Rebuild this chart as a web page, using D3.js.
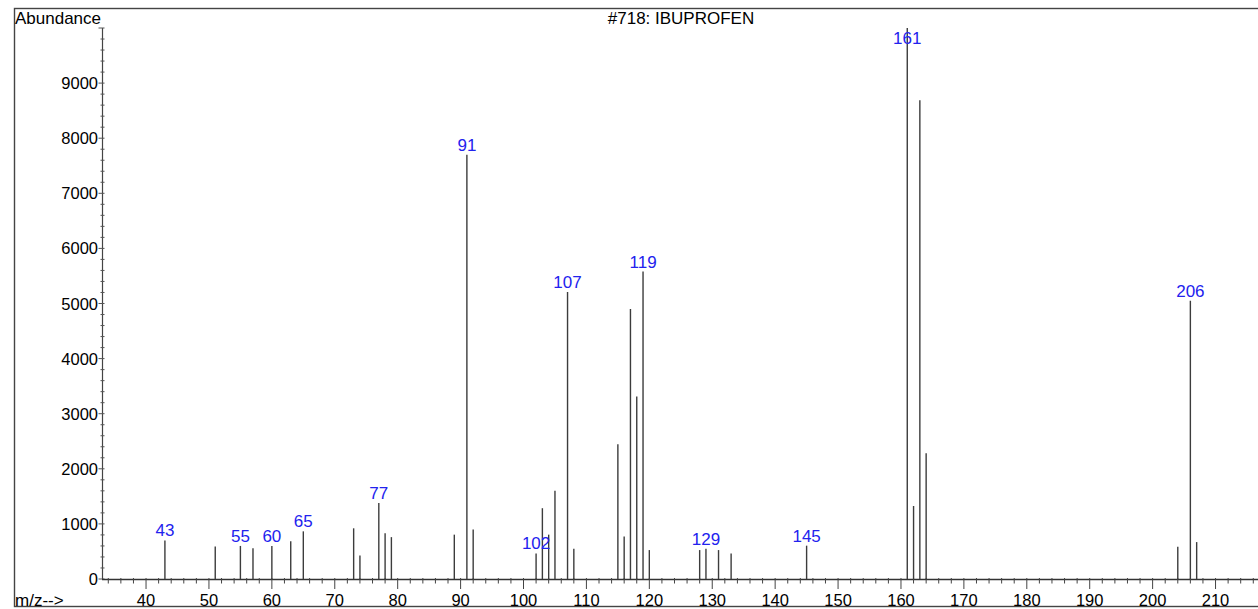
<!DOCTYPE html>
<html>
<head>
<meta charset="utf-8">
<script src="https://cdn.jsdelivr.net/npm/d3@7"></script>
<style>
  body { margin: 0; background: #fff; }
  svg text { font-family: "Liberation Sans", Arial, sans-serif; }
</style>
</head>
<body>
<svg id="chart" width="1258" height="609"></svg>
<script>
// peak m/z values and their abundances
var mz = [43, 51, 55, 57, 60, 63, 65, 73, 74, 77, 78, 79, 89, 91, 92,
          102, 103, 104, 105, 107, 108, 115, 116, 117, 118, 119, 120,
          128, 129, 131, 133, 145, 161, 162, 163, 164, 204, 206, 207];
var abundance = [700, 590, 600, 560, 600, 685, 865, 920, 425, 1380, 830, 760, 805, 7700, 900,
                 465, 1285, 805, 1600, 5210, 550, 2445, 770, 4900, 3310, 5580, 525,
                 525, 550, 525, 465, 605, 10000, 1325, 8690, 2280, 585, 5050, 670];
// peaks that carry a blue label
var labelled = [43, 55, 60, 65, 77, 91, 102, 107, 119, 129, 145, 161, 206];
var yTickLabels = [0, 1000, 2000, 3000, 4000, 5000, 6000, 7000, 8000, 9000];
var xTickLabels = [40, 50, 60, 70, 80, 90, 100, 110, 120, 130, 140, 150, 160, 170, 180, 190, 200, 210];
var title = "#718: IBUPROFEN";

var svg = d3.select("#chart");

var x = d3.scaleLinear().domain([33, 216.75]).range([102, 1258]);
var y = d3.scaleLinear().domain([0, 10000]).range([579, 28]);

// outer frame
svg.append("rect")
  .attr("x", 14.5).attr("y", 8.5)
  .attr("width", 1260).attr("height", 598)
  .attr("fill", "none").attr("stroke", "#444").attr("stroke-width", 1.4);

// title texts
svg.append("text").attr("x", 15).attr("y", 24).attr("font-size", 17).text("Abundance");
svg.append("text").attr("x", 681).attr("y", 24).attr("font-size", 17)
  .attr("text-anchor", "middle").text(title);
svg.append("text").attr("x", 15).attr("y", 606).attr("font-size", 17).text("m/z-->");

// y axis
var yAxis = svg.append("g");
yAxis.append("line")
  .attr("x1", 102.5).attr("x2", 102.5).attr("y1", 28).attr("y2", 579)
  .attr("stroke", "#444").attr("stroke-width", 1.2);
yAxis.selectAll(".yminor").data(d3.range(0, 10001, 200)).enter().append("line")
  .attr("x1", d => d % 1000 == 0 ? 98.5 : 100.5).attr("x2", 104.5)
  .attr("y1", d => y(d)).attr("y2", d => y(d))
  .attr("stroke", "#555").attr("stroke-width", 1);
yAxis.selectAll(".ylab").data(yTickLabels).enter().append("text")
  .attr("x", 98).attr("y", d => y(d) + 6)
  .attr("text-anchor", "end").attr("font-size", 16.5)
  .text(d => d);

// x axis
var xAxis = svg.append("g");
xAxis.append("line")
  .attr("x1", 102).attr("x2", 1258).attr("y1", 579.5).attr("y2", 579.5)
  .attr("stroke", "#333").attr("stroke-width", 1.3);
xAxis.selectAll(".xminor").data(d3.range(34, 217, 2)).enter().append("line")
  .attr("x1", d => x(d)).attr("x2", d => x(d))
  .attr("y1", 578).attr("y2", d => d % 10 == 0 ? 589 : 583.5)
  .attr("stroke", "#444").attr("stroke-width", 1);
xAxis.selectAll(".xlab").data(xTickLabels).enter().append("text")
  .attr("x", d => x(d)).attr("y", 606)
  .attr("text-anchor", "middle").attr("font-size", 16.5)
  .text(d => d);

// spectrum lines
var peaks = mz.map((m, i) => ({mz: m, v: abundance[i]}));
svg.selectAll(".peak").data(peaks).enter().append("line")
  .attr("x1", d => x(d.mz)).attr("x2", d => x(d.mz))
  .attr("y1", y(0)).attr("y2", d => y(d.v))
  .attr("stroke", "#3c3c3c").attr("stroke-width", 1.4);

// peak labels, kept inside the plot top
svg.selectAll(".plab").data(peaks.filter(d => labelled.indexOf(d.mz) >= 0)).enter().append("text")
  .attr("x", d => x(d.mz)).attr("y", d => Math.max(y(d.v) - 4, 44))
  .attr("text-anchor", "middle").attr("font-size", 17)
  .attr("fill", "#2222ee")
  .text(d => d.mz);
</script>
</body>
</html>
